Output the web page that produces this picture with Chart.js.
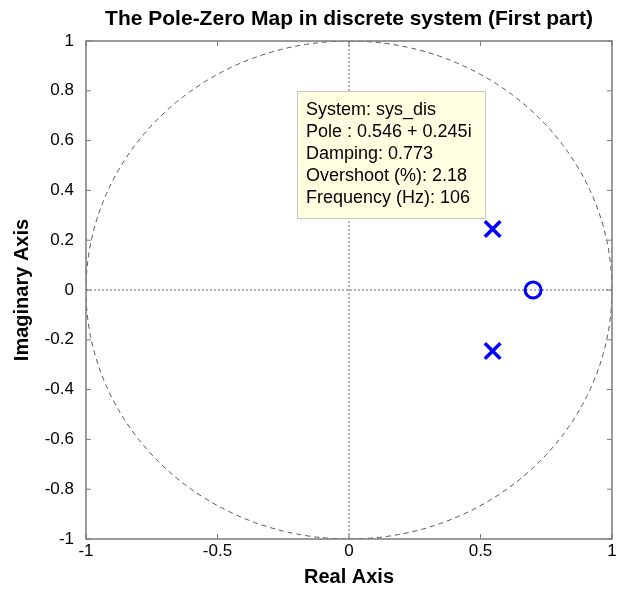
<!DOCTYPE html>
<html>
<head>
<meta charset="utf-8">
<script src="https://cdn.jsdelivr.net/npm/chart.js@4/dist/chart.umd.min.js"></script>
<style>
  html, body { margin: 0; padding: 0; background: #fff; }
  #pz { display: block; }
</style>
</head>
<body>
<canvas id="pz" width="618" height="589"></canvas>
<script>
// poles and zeros of sys_dis
const poleRe = [0.546, 0.546];
const poleIm = [0.245, -0.245];
const zeroRe = [0.70];
const zeroIm = [0];

const xTicks = [-1, -0.5, 0, 0.5, 1];
const yTicks = [-1, -0.8, -0.6, -0.4, -0.2, 0, 0.2, 0.4, 0.6, 0.8, 1];

const tipLines = [
  "System: sys_dis",
  "Pole : 0.546 + 0.245i",
  "Damping: 0.773",
  "Overshoot (%): 2.18",
  "Frequency (Hz): 106"
];

const FONT = "'Liberation Sans', Arial, Helvetica, sans-serif";
const fmt = v => String(parseFloat(v.toFixed(2)));

// unit circle, zero lines, box with inner ticks, labels and the data tip
const decor = {
  id: "decor",
  beforeDatasetsDraw(chart) {
    const { ctx, chartArea: a, scales: { x, y } } = chart;
    ctx.save();
    ctx.beginPath();
    ctx.rect(a.left, a.top, a.right - a.left, a.bottom - a.top);
    ctx.clip();
    // dotted axes through the origin
    ctx.strokeStyle = "#666";
    ctx.lineWidth = 1;
    ctx.setLineDash([2, 2]);
    ctx.beginPath();
    ctx.moveTo(x.getPixelForValue(0), a.top);
    ctx.lineTo(x.getPixelForValue(0), a.bottom);
    ctx.moveTo(a.left, y.getPixelForValue(0));
    ctx.lineTo(a.right, y.getPixelForValue(0));
    ctx.stroke();
    // unit circle
    ctx.setLineDash([5, 4]);
    ctx.strokeStyle = "#555";
    const cx = x.getPixelForValue(0), cy = y.getPixelForValue(0);
    const rx = x.getPixelForValue(1) - cx, ry = cy - y.getPixelForValue(1);
    ctx.beginPath();
    ctx.ellipse(cx, cy, rx, ry, 0, 0, Math.PI * 2);
    ctx.stroke();
    ctx.restore();

    // frame and inward ticks
    ctx.save();
    ctx.strokeStyle = "#7a7a7a";
    ctx.lineWidth = 1.5;
    ctx.strokeRect(a.left, a.top, a.right - a.left, a.bottom - a.top);
    ctx.lineWidth = 1;
    ctx.beginPath();
    xTicks.forEach(v => {
      const px = x.getPixelForValue(v);
      ctx.moveTo(px, a.bottom); ctx.lineTo(px, a.bottom - 5);
      ctx.moveTo(px, a.top); ctx.lineTo(px, a.top + 5);
    });
    yTicks.forEach(v => {
      const py = y.getPixelForValue(v);
      ctx.moveTo(a.left, py); ctx.lineTo(a.left + 5, py);
      ctx.moveTo(a.right, py); ctx.lineTo(a.right - 5, py);
    });
    ctx.stroke();
    ctx.restore();

    ctx.save();
    ctx.fillStyle = "#000";
    // x tick labels
    ctx.font = "17px " + FONT;
    ctx.textAlign = "center";
    ctx.textBaseline = "middle";
    xTicks.forEach(v => ctx.fillText(fmt(v), x.getPixelForValue(v), a.bottom + 12));
    // titles
    ctx.font = "bold 21px " + FONT;
    const mid = (a.left + a.right) / 2;
    ctx.fillText("The Pole-Zero Map in discrete system (First part)", mid, 19);
    ctx.font = "bold 20px " + FONT;
    ctx.fillText("Real Axis", mid, 577);
    ctx.translate(22, (a.top + a.bottom) / 2);
    ctx.rotate(-Math.PI / 2);
    ctx.fillText("Imaginary Axis", 0, 0);
    ctx.restore();
  },
  afterDatasetsDraw(chart) {
    const { ctx } = chart;
    ctx.save();
    ctx.fillStyle = "#ffffe1";
    ctx.strokeStyle = "#c8c8c8";
    ctx.lineWidth = 1;
    ctx.fillRect(297.5, 91.5, 188, 127);
    ctx.strokeRect(297.5, 91.5, 188, 127);
    ctx.fillStyle = "#000";
    ctx.font = "18px " + FONT;
    ctx.textAlign = "left";
    ctx.textBaseline = "middle";
    tipLines.forEach((t, i) => ctx.fillText(t, 306, 110 + i * 22));
    ctx.restore();
  }
};

new Chart(document.getElementById("pz"), {
  type: "scatter",
  data: {
    datasets: [
      {
        label: "Poles",
        data: poleRe.map((r, i) => ({ x: r, y: poleIm[i] })),
        pointStyle: "crossRot",
        pointRadius: 11,
        pointBorderWidth: 3.5,
        borderColor: "#0000ff",
        backgroundColor: "#0000ff"
      },
      {
        label: "Zeros",
        data: zeroRe.map((r, i) => ({ x: r, y: zeroIm[i] })),
        pointStyle: "circle",
        pointRadius: 8,
        pointBorderWidth: 3,
        borderColor: "#0000ff",
        backgroundColor: "rgba(0,0,0,0)"
      }
    ]
  },
  options: {
    responsive: false,
    animation: false,
    layout: { autoPadding: false, padding: { top: 41, right: 6, left: 0, bottom: 0 } },
    plugins: { legend: { display: false }, tooltip: { enabled: false }, title: { display: false } },
    scales: {
      x: {
        type: "linear", min: -1, max: 1,
        afterBuildTicks: s => { s.ticks = xTicks.map(v => ({ value: v })); },
        afterFit: s => { s.height = 50; },
        grid: { display: false, drawTicks: false },
        border: { display: false },
        ticks: { display: false }
      },
      y: {
        type: "linear", min: -1, max: 1,
        afterBuildTicks: s => { s.ticks = yTicks.map(v => ({ value: v })); },
        afterFit: s => { s.width = 86; },
        grid: { display: false, drawTicks: false },
        border: { display: false },
        ticks: { color: "#000", font: { family: FONT, size: 17 }, padding: 12, callback: fmt }
      }
    }
  },
  plugins: [decor]
});
</script>
</body>
</html>
